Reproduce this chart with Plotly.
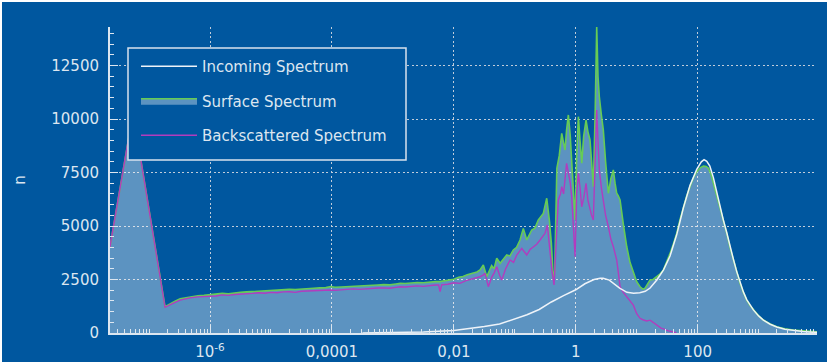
import plotly.graph_objects as go

# ---------------- data (log10 of energy, counts n) ----------------
surface_lg = [-7.641, -7.263, -6.738, -6.65, -6.574, -6.49, -6.40, -6.33, -6.20, -6.10,
              -6.00, -5.90, -5.80, -5.70, -5.60, -5.50, -5.40, -5.30, -5.20, -5.10,
              -5.00, -4.90, -4.80, -4.70, -4.60, -4.50, -4.40, -4.30, -4.20, -4.10,
              -4.02, -3.95, -3.85, -3.75, -3.65, -3.55, -3.45, -3.35, -3.25, -3.15,
              -3.05, -2.95, -2.88, -2.80, -2.70, -2.60, -2.50, -2.40, -2.30, -2.23,
              -2.15, -2.05, -2.00, -1.92, -1.85, -1.78, -1.70, -1.62, -1.57, -1.516,
              -1.46, -1.42, -1.38, -1.34, -1.296, -1.24, -1.18, -1.132, -1.08, -1.024,
              -0.97, -0.914, -0.86, -0.804, -0.76, -0.722, -0.67, -0.614, -0.532, -0.476,
              -0.433, -0.40, -0.367, -0.345, -0.31, -0.27, -0.23, -0.20, -0.176, -0.15,
              -0.121, -0.09, -0.066, -0.04, -0.011, 0.015, 0.043, 0.07, 0.098, 0.13,
              0.169, 0.20, 0.234, 0.26, 0.289, 0.32, 0.344, 0.365, 0.387, 0.42,
              0.452, 0.49, 0.535, 0.575, 0.617, 0.645, 0.672, 0.70, 0.727, 0.78,
              0.837, 0.89, 0.945, 1.00, 1.055, 1.10, 1.137, 1.18, 1.219, 1.27,
              1.329, 1.38, 1.437, 1.49, 1.547, 1.60, 1.657, 1.71, 1.766, 1.82,
              1.875, 1.93, 1.985, 2.04, 2.095, 2.14, 2.177, 2.22, 2.259, 2.31,
              2.368, 2.42, 2.477, 2.53, 2.586, 2.64, 2.696, 2.75, 2.805, 2.86,
              2.914, 3.00, 3.078, 3.19, 3.298, 3.43, 3.57, 3.73, 3.893, 3.96]
surface_n = [4030, 10300, 1230, 1380, 1480, 1600, 1650, 1700, 1740, 1760,
             1780, 1800, 1850, 1830, 1880, 1900, 1920, 1940, 1960, 1950,
             1990, 2000, 2020, 2040, 2030, 2060, 2080, 2090, 2110, 2120,
             2170, 2140, 2150, 2160, 2180, 2200, 2190, 2220, 2240, 2260,
             2250, 2290, 2320, 2310, 2340, 2360, 2350, 2390, 2400, 2400,
             2440, 2470, 2510, 2600, 2640, 2720, 2790, 2850, 2950, 3180,
             2630, 2900, 3150, 3000, 3490, 3257, 3500, 3645, 3600, 3880,
             4000, 4346, 4890, 4346, 4600, 4813, 4900, 5280, 5590, 6295,
             5280, 4200, 2480, 2900, 7700, 8300, 9330, 8800, 8550, 9500,
             10190, 9200, 8080, 6800, 5280, 8200, 10110, 9000, 7930, 9200,
             9950, 9400, 9020, 8000, 6840, 10500, 14300, 12000, 11040, 10200,
             9490, 8000, 6530, 7200, 7620, 7000, 6530, 6400, 6215, 5100,
             4030, 3300, 2790, 2400, 2160, 2050, 2090, 2300, 2480, 2500,
             2630, 2750, 2940, 3300, 3720, 4150, 4660, 5300, 5900, 6400,
             6840, 7250, 7540, 7720, 7800, 7780, 7700, 7400, 7000, 6450,
             5900, 5250, 4660, 4000, 3410, 2850, 2320, 1900, 1540, 1280,
             1075, 800, 607, 420, 294, 200, 140, 90, 60, 50]

back_lg = [-7.641, -7.263, -6.738, -6.65, -6.574, -6.49, -6.40, -6.33, -6.20, -6.10,
           -6.00, -5.90, -5.80, -5.70, -5.60, -5.50, -5.40, -5.30, -5.20, -5.10,
           -5.00, -4.90, -4.80, -4.70, -4.60, -4.50, -4.40, -4.30, -4.20, -4.10,
           -4.02, -3.95, -3.85, -3.75, -3.65, -3.55, -3.45, -3.35, -3.25, -3.15,
           -3.05, -2.95, -2.88, -2.80, -2.70, -2.60, -2.50, -2.40, -2.30, -2.25,
           -2.226, -2.20, -2.10, -2.00, -1.90, -1.80, -1.70, -1.62, -1.57, -1.52,
           -1.488, -1.434, -1.38, -1.34, -1.296, -1.25, -1.214, -1.15, -1.078, -1.02,
           -0.968, -0.886, -0.804, -0.75, -0.695, -0.64, -0.586, -0.504, -0.466, -0.422,
           -0.39, -0.356, -0.286, -0.25, -0.23, -0.20, -0.176, -0.15, -0.121, -0.09,
           -0.066, -0.04, -0.011, 0.015, 0.043, 0.07, 0.098, 0.13, 0.169, 0.20,
           0.234, 0.26, 0.289, 0.32, 0.344, 0.365, 0.387, 0.42, 0.452, 0.49,
           0.535, 0.575, 0.617, 0.645, 0.672, 0.70, 0.727, 0.78, 0.837, 0.89,
           0.945, 1.00, 1.055, 1.10, 1.164, 1.22, 1.27, 1.33, 1.40, 1.45,
           1.52, 1.60, 1.65]
back_n = [4030, 10300, 1200, 1340, 1430, 1540, 1600, 1640, 1690, 1700,
          1710, 1730, 1780, 1760, 1800, 1810, 1840, 1850, 1880, 1860,
          1900, 1880, 1920, 1930, 1900, 1950, 1960, 1980, 1990, 2000,
          2010, 1990, 2020, 2030, 2060, 2040, 2070, 2080, 2100, 2110,
          2090, 2130, 2160, 2150, 2170, 2200, 2180, 2220, 2240, 2240,
          1930, 2250, 2280, 2350, 2320, 2450, 2520, 2580, 2630, 2700,
          2790, 2164, 2600, 2800, 3100, 2700, 2477, 3000, 3411, 3300,
          3645, 3958, 3645, 3900, 4033, 4150, 4346, 4659, 5047, 3724,
          2900, 2243, 6215, 6500, 6840, 6500, 7100, 7930, 7500, 7000,
          6370, 5000, 3566, 6500, 7460, 6800, 5900, 6300, 6990, 6200,
          5700, 5500, 5280, 7800, 10420, 9000, 7617, 6800, 6215, 5500,
          4970, 4400, 4033, 3700, 3411, 2800, 2164, 1900, 1700, 1500,
          1300, 900, 687, 620, 560, 600, 500, 350, 230, 180,
          100, 50, 0]

incoming_lg = [-3.5, -3.0, -2.5, -2.0, -1.75, -1.5, -1.25, -1.0, -0.8, -0.6,
               -0.4, -0.2, 0.0, 0.15, 0.3, 0.4, 0.45, 0.55, 0.62, 0.72,
               0.84, 0.95, 1.05, 1.14, 1.22, 1.33, 1.44, 1.547, 1.657, 1.766,
               1.875, 1.985, 2.06, 2.105, 2.15, 2.2, 2.259, 2.31, 2.368, 2.42,
               2.477, 2.53, 2.586, 2.64, 2.696, 2.75, 2.805, 2.86, 2.914, 3.0,
               3.078, 3.19, 3.298, 3.43, 3.57, 3.73, 3.893, 3.96]
incoming_n = [0, 20, 50, 120, 200, 300, 420, 650, 850, 1100,
              1450, 1750, 2020, 2300, 2500, 2560, 2560, 2470, 2320, 2100,
              1900, 1860, 1880, 1950, 2100, 2480, 2950, 3600, 4600, 5850,
              6900, 7650, 8000, 8100, 8020, 7800, 7250, 6600, 5950, 5300,
              4700, 4050, 3450, 2880, 2350, 1920, 1560, 1290, 1080, 800,
              600, 410, 280, 180, 120, 70, 40, 30]

x_tick_vals = [1e-6, 1e-4, 1e-2, 1, 100]
x_tick_text = ["10<sup>-6</sup>", "0,0001", "0,01", "1", "100"]
y_tick_vals = [0, 2500, 5000, 7500, 10000, 12500]
y_tick_text = ["0", "2500", "5000", "7500", "10000", "12500"]
y_minor_vals = list(range(0, 14001, 500))
x_range_log = [-7.641, 3.958]
y_range = [0, 14300]

# ---------------- style ----------------
BG = "#00579F"
FG = "#DCE6F0"
FONT = "DejaVu Sans"
W, H = 827, 362
ML, MR, MT, MB = 110, 10, 27, 29
pw = W - ML - MR
ph = H - MT - MB


def px_x(p):
    return (p - ML) / pw


def px_y(p):
    return 1 - (p - MT) / ph


x_minor_vals = [m * 10.0 ** d for d in range(-8, 5) for m in range(1, 10)
                if 10 ** x_range_log[0] <= m * 10.0 ** d <= 10 ** x_range_log[1]]

surface_x = [10 ** v for v in surface_lg]
back_x = [10 ** v for v in back_lg]
incoming_x = [10 ** v for v in incoming_lg]

fig = go.Figure()
fig.add_trace(go.Scatter(
    x=surface_x, y=surface_n, name="Surface Spectrum", mode="lines",
    line=dict(color="#66CC55", width=1.6), fill="tozeroy",
    fillcolor="rgba(255,255,255,0.36)", legendrank=2, legendgroup="s"))
fig.add_trace(go.Scatter(
    x=back_x, y=back_n, name="Backscattered Spectrum", mode="lines",
    line=dict(color="#B23CBE", width=1.4), legendrank=3, legendgroup="b"))
fig.add_trace(go.Scatter(
    x=incoming_x, y=incoming_n, name="Incoming Spectrum", mode="lines",
    line=dict(color="#EEF3F9", width=1.5), legendrank=1, legendgroup="i"))

# page background: thin white strip at top and left edges
fig.add_shape(type="rect", xref="paper", yref="paper",
              x0=px_x(0), x1=px_x(W), y0=px_y(H), y1=px_y(0),
              fillcolor="white", line_width=0, layer="below")
fig.add_shape(type="rect", xref="paper", yref="paper",
              x0=px_x(2), x1=px_x(W), y0=px_y(H), y1=px_y(2),
              fillcolor=BG, line_width=0, layer="below")
# legend frame (opaque, hides curves behind it)
fig.add_shape(type="rect", xref="paper", yref="paper",
              x0=px_x(128), x1=px_x(406), y0=px_y(160), y1=px_y(48),
              fillcolor=BG, line=dict(color="#D8E2EE", width=1.5), layer="above")

fig.update_layout(
    width=W, height=H,
    margin=dict(l=ML, r=MR, t=MT, b=MB, autoexpand=False),
    paper_bgcolor="white", plot_bgcolor="rgba(0,0,0,0)",
    font=dict(family=FONT, size=15, color=FG),
    showlegend=True,
    legend=dict(x=px_x(136), y=px_y(50), xanchor="left", yanchor="top",
                bgcolor="rgba(0,0,0,0)", borderwidth=0,
                font=dict(family=FONT, size=15, color=FG),
                traceorder="grouped", tracegroupgap=12, itemwidth=56),
    hovermode=False,
)
fig.update_xaxes(
    type="log", range=x_range_log,
    tickmode="array", tickvals=x_tick_vals, ticktext=x_tick_text,
    ticks="inside", ticklen=8, tickwidth=1.3, tickcolor=FG,
    showline=True, linecolor=FG, linewidth=2, mirror=False,
    showgrid=True, gridcolor="#C0CCDA", gridwidth=1.2, griddash="2px,2.5px",
    zeroline=False, ticklabelstandoff=4,
    tickfont=dict(family=FONT, size=15, color=FG),
    minor=dict(tickmode="array", tickvals=x_minor_vals, ticks="inside", ticklen=4,
               tickwidth=1, tickcolor=FG, showgrid=False),
)
fig.update_yaxes(
    range=y_range,
    tickmode="array", tickvals=y_tick_vals, ticktext=y_tick_text,
    ticks="inside", ticklen=8, tickwidth=1.3, tickcolor=FG,
    showline=True, linecolor=FG, linewidth=2,
    showgrid=True, gridcolor="#C0CCDA", gridwidth=1.2, griddash="2px,2.5px",
    zeroline=False, ticklabelstandoff=6,
    tickfont=dict(family=FONT, size=15, color=FG),
    title=dict(text="n", font=dict(family=FONT, size=15, color=FG), standoff=22),
    minor=dict(tickmode="array", tickvals=y_minor_vals, ticks="inside", ticklen=4,
               tickwidth=1, tickcolor=FG, showgrid=False),
)

fig.write_html("out.html", config={"displayModeBar": False},
               post_script="document.body.style.margin='0px';")
